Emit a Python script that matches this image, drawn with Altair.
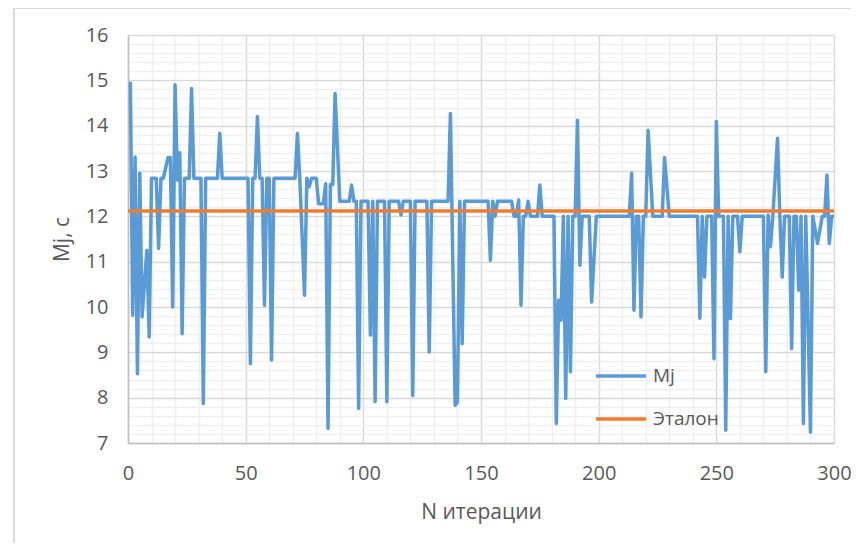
import altair as alt
import pandas as pd

# ---- data ----
mj_iter = [
    1, 2, 3, 4, 5, 6, 8, 9, 10, 12, 13, 14, 15, 17, 18, 19, 20, 21, 22, 23,
    24, 26, 27, 28, 31, 32, 33, 38, 39, 40,
    51, 52, 53, 54, 55, 56, 57, 58, 59, 60, 61, 62, 71, 72, 73, 75, 76, 77, 78, 80,
    81, 83, 84, 85, 86, 87, 88, 90, 94, 95, 96, 97, 98, 99,
    100, 102, 103, 104, 105, 106, 109, 110, 111, 115, 116, 117, 120, 121, 122, 127,
    128, 129, 136, 137, 139, 140, 141, 142, 143,
    153, 154, 155, 156, 157, 163, 164, 165, 166, 167, 168, 169, 170, 171, 174, 175,
    176, 181, 182, 183, 184, 185, 186, 187, 188, 189, 190, 191, 192, 193, 196, 197, 199,
    213, 214, 215, 216, 217, 218, 219, 220, 221, 223, 227, 228, 230, 242, 243, 244,
    245, 246, 248, 249, 250, 251, 253, 254, 255, 256, 257, 259, 260, 261,
    270, 271, 272, 273, 274, 276, 277, 278, 279, 281, 282, 283, 284, 285, 286, 287,
    288, 290, 291, 293, 295, 296, 297, 298, 299, 300,
]
mj_value = [
    14.97, 9.82, 13.31, 8.53, 12.95, 9.78, 11.25, 9.34, 12.84, 12.84, 11.29, 12.84, 12.84, 13.3, 13.3, 10.0, 14.9, 12.8, 13.4, 9.41,
    12.84, 12.84, 14.82, 12.84, 12.84, 7.87, 12.84, 12.84, 13.83, 12.84,
    12.84, 8.75, 12.84, 12.84, 14.2, 12.84, 12.84, 10.04, 12.84, 12.84, 8.83, 12.84, 12.84, 13.83, 12.84, 10.26, 12.84, 12.65, 12.84, 12.84,
    12.28, 12.28, 12.72, 7.32, 12.7, 12.7, 14.71, 12.33, 12.33, 12.69, 12.33, 12.33, 7.76, 12.33,
    12.33, 12.33, 9.38, 12.33, 7.91, 12.33, 12.33, 7.91, 12.33, 12.33, 12.03, 12.33, 12.33, 8.05, 12.33, 12.33,
    9.01, 12.33, 12.33, 14.27, 7.83, 7.9, 12.33, 9.19, 12.33,
    12.33, 11.03, 12.33, 12.0, 12.33, 12.33, 12.0, 12.0, 12.36, 10.04, 12.0, 12.0, 12.33, 12.0, 12.0, 12.69,
    12.0, 12.0, 7.43, 10.15, 9.71, 12.0, 7.98, 12.0, 8.57, 12.0, 12.0, 14.12, 10.92, 12.0, 12.0, 10.11, 12.0,
    12.0, 12.95, 9.93, 12.0, 12.0, 9.78, 12.0, 12.0, 13.9, 12.0, 12.0, 13.3, 12.0, 12.0, 9.75, 12.0,
    10.66, 12.0, 12.0, 8.86, 14.09, 12.0, 12.0, 7.28, 12.0, 9.74, 12.0, 12.0, 11.22, 12.0,
    12.0, 8.57, 12.03, 11.33, 12.0, 13.72, 12.0, 10.66, 12.0, 12.0, 9.08, 12.0, 12.0, 10.37, 12.0, 7.43,
    12.0, 7.24, 12.0, 11.4, 12.0, 12.0, 12.91, 11.4, 12.0, 12.0,
]
etalon_iter = [0, 300]
etalon_value = [12.12, 12.12]

series_names = ["Mj", "Эталон"]
series_colors = ["#5b9bd5", "#ed7d31"]

x_grid = list(range(0, 301, 10))
y_grid = [round(7 + 0.2 * i, 1) for i in range(46)]

df = pd.concat(
    [
        pd.DataFrame({"iter": mj_iter, "value": mj_value, "series": "Mj"}),
        pd.DataFrame({"iter": etalon_iter, "value": etalon_value, "series": "Эталон"}),
    ],
    ignore_index=True,
)

FONT = "Open Sans"
TXT = "#595959"

lines = alt.Chart(df).mark_line(strokeWidth=3.5, strokeJoin="round").encode(
    x=alt.X(
        "iter:Q",
        scale=alt.Scale(domain=[0, 300], nice=False, zero=False),
        axis=alt.Axis(
            values=x_grid,
            format="d",
            labelFlush=False,
            labelExpr="datum.value % 50 === 0 ? datum.label : ''",
            gridColor={"condition": {"test": "datum.value % 50 === 0", "value": "#d9d9d9"}, "value": "#f0f0f0"},
            title="N итерации",
            titlePadding=18,
        ),
    ),
    y=alt.Y(
        "value:Q",
        scale=alt.Scale(domain=[7, 16], nice=False, zero=False),
        axis=alt.Axis(
            values=y_grid,
            format=".0f",
            labelFlush=False,
            labelExpr="abs(datum.value - round(datum.value)) < 0.01 ? datum.label : ''",
            gridColor={"condition": {"test": "abs(datum.value - round(datum.value)) < 0.01", "value": "#d9d9d9"}, "value": "#f0f0f0"},
            title="Mj, c",
            titlePadding=13,
        ),
    ),
    color=alt.Color(
        "series:N",
        scale=alt.Scale(domain=series_names, range=series_colors),
        legend=alt.Legend(
            title=None,
            orient="none",
            legendX=466,
            legendY=314,
            symbolType="stroke",
            symbolSize=2500,
            symbolStrokeWidth=3.5,
            rowPadding=6,
            labelOffset=5,
            padding=0,
            labelFont=FONT,
            labelFontSize=19,
            labelColor=TXT,
        ),
    ),
)

frame_left = alt.Chart(alt.Data(values=[{"k": 1}])).mark_rule(color="#d9d9d9", strokeWidth=2).encode(
    x=alt.value(-114), y=alt.value(-28), y2=alt.value(530)
)
frame_top = alt.Chart(alt.Data(values=[{"k": 1}])).mark_rule(color="#d9d9d9", strokeWidth=2).encode(
    x=alt.value(-115), x2=alt.value(740), y=alt.value(-27)
)

chart = (
    alt.layer(frame_left, frame_top, lines)
    .properties(
        width=706,
        height=408,
        autosize=alt.AutoSizeParams(type="none"),
        padding={"left": 120, "top": 27, "right": 17, "bottom": 100},
        background="white",
    )
    .configure_view(strokeWidth=0)
    .configure_axis(
        labelFont=FONT,
        labelFontSize=20,
        labelColor=TXT,
        titleFont=FONT,
        titleFontSize=21,
        titleFontWeight="normal",
        titleColor=TXT,
        ticks=False,
        labelPadding=20,
        gridWidth=1.5,
        domainColor="#bfbfbf",
        domainWidth=1.5,
    )
)

chart.save("out.html", embed_options={"renderer": "svg", "actions": False})
